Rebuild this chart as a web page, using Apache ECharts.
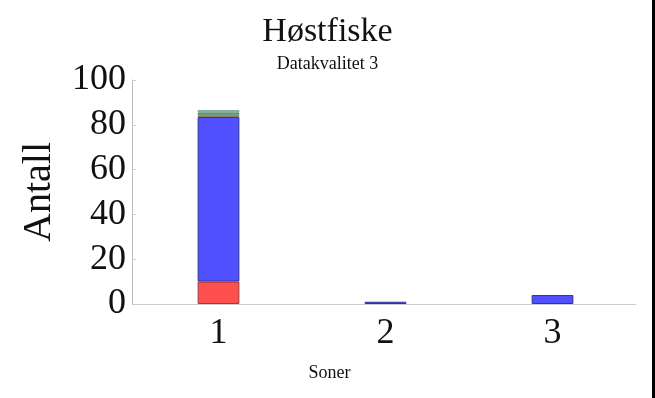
<!DOCTYPE html>
<html>
<head>
<meta charset="utf-8">
<script src="https://cdn.jsdelivr.net/npm/echarts@6/dist/echarts.min.js"></script>
<style>
  html, body { margin: 0; padding: 0; background: #fff; }
  #chart { width: 655px; height: 398px; }
</style>
</head>
<body>
<div id="chart"></div>
<script>
var soner = ['1', '2', '3'];
var rod = [10, '-', '-'];
var bla = [73.5, 1, 4];
var brun = [1, '-', '-'];
var gronn = [1, '-', '-'];
var lysgronn = [1, '-', '-'];
var yTicks = [0, 20, 40, 60, 80, 100];

var myChart = echarts.init(document.getElementById('chart'));
var font = 'Liberation Serif';

function lag(navn, data, farge, kant) {
    return {
        name: navn,
        type: 'bar',
        stack: 'alle',
        data: data,
        barWidth: '25%',
        itemStyle: { color: farge, borderColor: kant, borderWidth: 1 }
    };
}

option = {
    title: [
        {
            text: 'Høstfiske',
            left: 'center',
            top: 10,
            textStyle: { fontFamily: font, fontSize: 34, fontWeight: 'normal', color: '#111' }
        },
        {
            text: 'Datakvalitet 3',
            left: 'center',
            top: 50,
            textStyle: { fontFamily: font, fontSize: 18, fontWeight: 'normal', color: '#111' }
        }
    ],
    grid: { left: 135, right: 19, top: 80, bottom: 94 },
    xAxis: {
        type: 'category',
        data: soner,
        offset: 2,
        name: 'Soner',
        nameLocation: 'middle',
        nameGap: 58,
        nameTextStyle: { fontFamily: font, fontSize: 18, color: '#111', padding: [0, 112, 0, 0] },
        axisLine: { lineStyle: { color: '#ccc' } },
        axisTick: { alignWithLabel: true, length: 3, lineStyle: { color: '#ccc' } },
        axisLabel: { fontFamily: font, fontSize: 36, color: '#111', margin: 10 }
    },
    yAxis: {
        type: 'value',
        min: yTicks[0],
        max: yTicks[yTicks.length - 1],
        interval: 20,
        offset: 3,
        name: 'Antall',
        nameLocation: 'middle',
        nameGap: 73,
        nameTextStyle: { fontFamily: font, fontSize: 40, color: '#111' },
        axisLine: { show: true, lineStyle: { color: '#bbb' } },
        axisTick: { show: true, inside: true, length: 4, lineStyle: { color: '#ccc' } },
        splitLine: { show: false },
        axisLabel: { fontFamily: font, fontSize: 36, color: '#111', margin: 6 }
    },
    series: [
        lag('rød', rod, '#ff5050', '#a03a3a'),
        lag('blå', bla, '#5050ff', '#33339a'),
        lag('brun', brun, '#c8b080', '#8a7a5a'),
        lag('grønn', gronn, '#60c888', '#4a8a66'),
        lag('lysgrønn', lysgronn, '#a0ecc0', '#6a9a80')
    ],
    graphic: [
        { type: 'rect', right: 0, top: 0, shape: { width: 3, height: 398 }, style: { fill: '#000' } }
    ]
};
myChart.setOption(option);
</script>
</body>
</html>
